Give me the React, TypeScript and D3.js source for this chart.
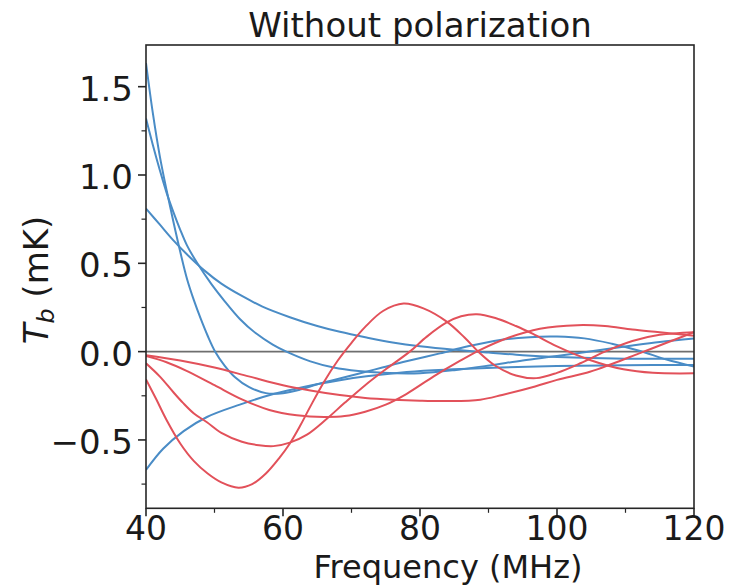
import React from "react";
import * as d3 from "d3";

type Pt = [number, number];

// Frequency (MHz) vs T_b (mK)
const blue1: Pt[] = [[40,1.634],[41,1.35],[42,1.11],[43,0.915],[44,0.735],[45,0.565],[46,0.41],[47,0.29],[48,0.185],[49,0.09],[50.1,0.0],[51.5,-0.08],[53,-0.145],[55,-0.2],[57.5,-0.235],[60,-0.235],[62.5,-0.215],[65,-0.185],[68,-0.155],[71,-0.125],[74.5,-0.09],[78,-0.055],[82.9,-0.01],[87,0.03],[91.7,0.066],[96,0.082],[100,0.085],[104,0.075],[108,0.045],[112,0.005],[116,-0.045],[120,-0.085]];
const blue2: Pt[] = [[40,1.32],[41,1.17],[42,1.03],[43,0.9],[44,0.79],[45,0.69],[46,0.6],[47.5,0.5],[49.5,0.385],[51.5,0.285],[53.7,0.185],[56,0.105],[58.5,0.04],[60.5,0.0],[64,-0.055],[67.4,-0.09],[71,-0.11],[74.6,-0.12],[80,-0.122],[85,-0.105],[90.2,-0.078],[95,-0.05],[100,-0.025],[104,-0.003],[107.3,0.015],[111,0.035],[115,0.055],[120,0.075]];
const blue3: Pt[] = [[40,0.81],[42,0.72],[44,0.63],[46,0.55],[48.5,0.46],[51,0.385],[54,0.315],[57,0.255],[61,0.195],[65,0.145],[68.3,0.112],[72.2,0.08],[76,0.052],[80,0.03],[85,0.01],[90,-0.005],[95,-0.02],[100,-0.03],[110,-0.04],[120,-0.04]];
const blue4: Pt[] = [[40,-0.67],[42.5,-0.55],[45.5,-0.45],[48.9,-0.37],[53.7,-0.3],[58.6,-0.24],[63,-0.2],[68.3,-0.162],[72.2,-0.14],[77,-0.12],[81.9,-0.106],[86,-0.098],[91.7,-0.09],[100,-0.082],[110,-0.077],[120,-0.076]];

const red1: Pt[] = [[40,-0.157],[41.5,-0.27],[43,-0.387],[45,-0.52],[47,-0.62],[49,-0.69],[51,-0.74],[53.5,-0.77],[55.5,-0.75],[57.5,-0.69],[59.5,-0.6],[61,-0.52],[62.5,-0.42],[64,-0.31],[66,-0.17],[68,-0.05],[70,0.05],[72,0.14],[74.6,0.23],[77.6,0.272],[80.5,0.245],[83.9,0.17],[86.5,0.08],[88.5,0.0],[91,-0.08],[94,-0.135],[97,-0.15],[100,-0.12],[103.4,-0.066],[107,0.0],[111,0.06],[115,0.095],[120,0.11]];
const red2: Pt[] = [[40,-0.066],[42,-0.14],[44,-0.23],[45.4,-0.29],[47,-0.35],[48.9,-0.4],[51,-0.46],[54,-0.51],[56.5,-0.53],[58.6,-0.535],[61,-0.515],[63.5,-0.47],[66.4,-0.38],[69,-0.29],[72,-0.19],[75,-0.1],[78.5,0.0],[81,0.085],[83.9,0.165],[86,0.2],[88.3,0.212],[91,0.19],[94,0.145],[96.5,0.1],[100,0.03],[104.8,-0.047],[109.7,-0.1],[114,-0.12],[120,-0.123]];
const red3: Pt[] = [[40,-0.025],[43,-0.06],[46,-0.11],[50,-0.19],[54,-0.27],[58,-0.33],[62,-0.36],[66,-0.37],[69,-0.365],[72,-0.34],[75,-0.3],[78,-0.24],[82,-0.14],[85.5,-0.06],[88.8,0.01],[93,0.08],[97.5,0.13],[103,0.15],[107,0.145],[111,0.125],[115,0.11],[120,0.09]];
const red4: Pt[] = [[40,-0.02],[45,-0.05],[50,-0.09],[55,-0.14],[60,-0.19],[64,-0.22],[68.3,-0.246],[72,-0.262],[76,-0.272],[80,-0.278],[84,-0.28],[88.8,-0.272],[92,-0.245],[96.8,-0.197],[100,-0.16],[104.8,-0.114],[108,-0.07],[112,-0.01],[116,0.05],[120,0.11]];

const blueSeries = [blue1, blue2, blue3, blue4];
const redSeries = [red1, red2, red3, red4];

const xMajor = [40, 60, 80, 100, 120];
const xMinor = [50, 70, 90, 110];
const yMajor = [-0.5, 0, 0.5, 1.0, 1.5];
const yMinor = [-0.75, -0.25, 0.25, 0.75, 1.25];

const titleText = "Without polarization";
const xLabelText = "Frequency (MHz)";

export default function App() {
  const W = 729, H = 586;
  const L = 146, R = 694, T = 45, B = 508.3;
  const x = d3.scaleLinear().domain([40, 120]).range([L, R]);
  const y = d3.scaleLinear().domain([-0.887, 1.736]).range([B, T]);
  const line = d3.line<Pt>().x(d => x(d[0])).y(d => y(d[1])).curve(d3.curveCatmullRom.alpha(0.5));
  const font = "DejaVu Sans, sans-serif";
  const fs = 34;
  const fsTick = 33;
  const fsX = 32;
  const axisColor = "#262626";
  const fmtY = (v: number) => (v < 0 ? "\u2212" : "") + Math.abs(v).toFixed(1);
  return (
    <svg width={W} height={H} style={{ position: "absolute", left: 0, top: 0, background: "#fff" }} fontFamily={font}>
      <defs>
        <clipPath id="plot"><rect x={L} y={T} width={R - L} height={B - T} /></clipPath>
      </defs>
      <rect x={0} y={0} width={W} height={H} fill="#fff" />
      <g clipPath="url(#plot)">
        <line x1={L} x2={R} y1={y(0)} y2={y(0)} stroke="#6e6e6e" strokeWidth={1.6} />
        {blueSeries.map((s, i) => (
          <path key={"b" + i} d={line(s) || ""} fill="none" stroke="#4a8cc6" strokeWidth={2} />
        ))}
        {redSeries.map((s, i) => (
          <path key={"r" + i} d={line(s) || ""} fill="none" stroke="#e2515a" strokeWidth={2} />
        ))}
      </g>
      <rect x={L} y={T} width={R - L} height={B - T} fill="none" stroke={axisColor} strokeWidth={1.6} />
      {xMajor.map(v => (
        <g key={"xm" + v}>
          <line x1={x(v)} x2={x(v)} y1={B} y2={B + 8} stroke={axisColor} strokeWidth={1.6} />
          <text x={x(v)} y={540} textAnchor="middle" fontSize={fsTick} fill="#1a1a1a">{v}</text>
        </g>
      ))}
      {xMinor.map(v => (
        <line key={"xn" + v} x1={x(v)} x2={x(v)} y1={B} y2={B + 4.5} stroke={axisColor} strokeWidth={1.2} />
      ))}
      {yMajor.map(v => (
        <g key={"ym" + v}>
          <line x1={L - 8} x2={L} y1={y(v)} y2={y(v)} stroke={axisColor} strokeWidth={1.6} />
          <text x={133} y={y(v) + 14} textAnchor="end" fontSize={fs} fill="#1a1a1a">{fmtY(v)}</text>
        </g>
      ))}
      {yMinor.map(v => (
        <line key={"yn" + v} x1={L - 4.5} x2={L} y1={y(v)} y2={y(v)} stroke={axisColor} strokeWidth={1.2} />
      ))}
      <text x={(L + R) / 2} y={37} textAnchor="middle" fontSize={fs} fill="#1a1a1a">{titleText}</text>
      <text x={448} y={578} textAnchor="middle" fontSize={fsX} fill="#1a1a1a">{xLabelText}</text>
      <text transform={`translate(48, 280) rotate(-90)`} textAnchor="middle" fontSize={fs} fill="#1a1a1a">
        <tspan fontStyle="italic">T</tspan>
        <tspan fontStyle="italic" fontSize={fs * 0.7} dy={6}>b</tspan>
        <tspan dy={-6}> (mK)</tspan>
      </text>
    </svg>
  );
}
